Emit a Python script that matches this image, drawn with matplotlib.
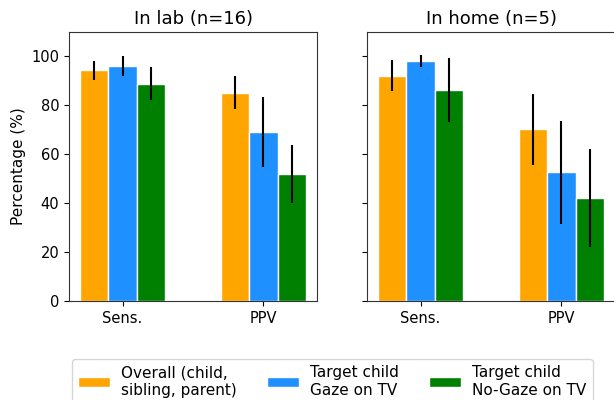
import matplotlib
matplotlib.use("Agg")
import matplotlib.pyplot as plt
import numpy as np

metrics = ["Sens.", "PPV"]
series_labels = ["Overall (child,\nsibling, parent)", "Target child\nGaze on TV", "Target child\nNo-Gaze on TV"]
colors = ["orange", "dodgerblue", "green"]

lab_titles = "In lab (n=16)"
home_titles = "In home (n=5)"

# values per series: [Sens., PPV]
lab_overall = [94.3, 85.2]
lab_gaze = [96.2, 69.0]
lab_nogaze = [88.8, 52.0]
lab_overall_err = [3.8, 6.7]
lab_gaze_err = [4.1, 14.3]
lab_nogaze_err = [6.8, 11.8]

home_overall = [92.2, 70.2]
home_gaze = [98.0, 52.6]
home_nogaze = [86.3, 42.2]
home_overall_err = [6.3, 14.5]
home_gaze_err = [2.4, 21.0]
home_nogaze_err = [13.0, 20.0]

fig = plt.figure(figsize=(6.14, 4.0), dpi=100)
ax1 = fig.add_axes([69/614, 1-301/400, 248/614, 269/400])
ax2 = fig.add_axes([367/614, 1-301/400, 248/614, 269/400])

x = np.arange(len(metrics))
w = 0.2
handles = []
for ax, title, vals, errs in [
    (ax1, lab_titles, [lab_overall, lab_gaze, lab_nogaze], [lab_overall_err, lab_gaze_err, lab_nogaze_err]),
    (ax2, home_titles, [home_overall, home_gaze, home_nogaze], [home_overall_err, home_gaze_err, home_nogaze_err]),
]:
    hs = []
    for i, (v, e, c) in enumerate(zip(vals, errs, colors)):
        b = ax.bar(x + (i - 1) * w, v, w, color=c, edgecolor="white", linewidth=1,
                   yerr=e, error_kw=dict(ecolor="black", elinewidth=1.5, capsize=0))
        hs.append(b)
    handles = hs
    ax.set_title(title, fontsize=13)
    ax.set_ylim(0, 110)
    ax.set_xticks(x)
    ax.set_xticklabels(metrics)
    ax.set_yticks([0, 20, 40, 60, 80, 100])
    ax.tick_params(labelsize=10.5)
    for s in ax.spines.values():
        s.set_color("#333333")

ax2.set_yticklabels([])
ax1.set_ylabel("Percentage (%)", fontsize=11)

fig.legend(handles, series_labels, loc="upper left", bbox_to_anchor=(72/614, 1-359/400),
           ncol=3, fontsize=11, frameon=True, handlelength=2.1, handletextpad=0.7,
           columnspacing=2.0, borderaxespad=0)

fig.savefig("out.png", dpi=100)
